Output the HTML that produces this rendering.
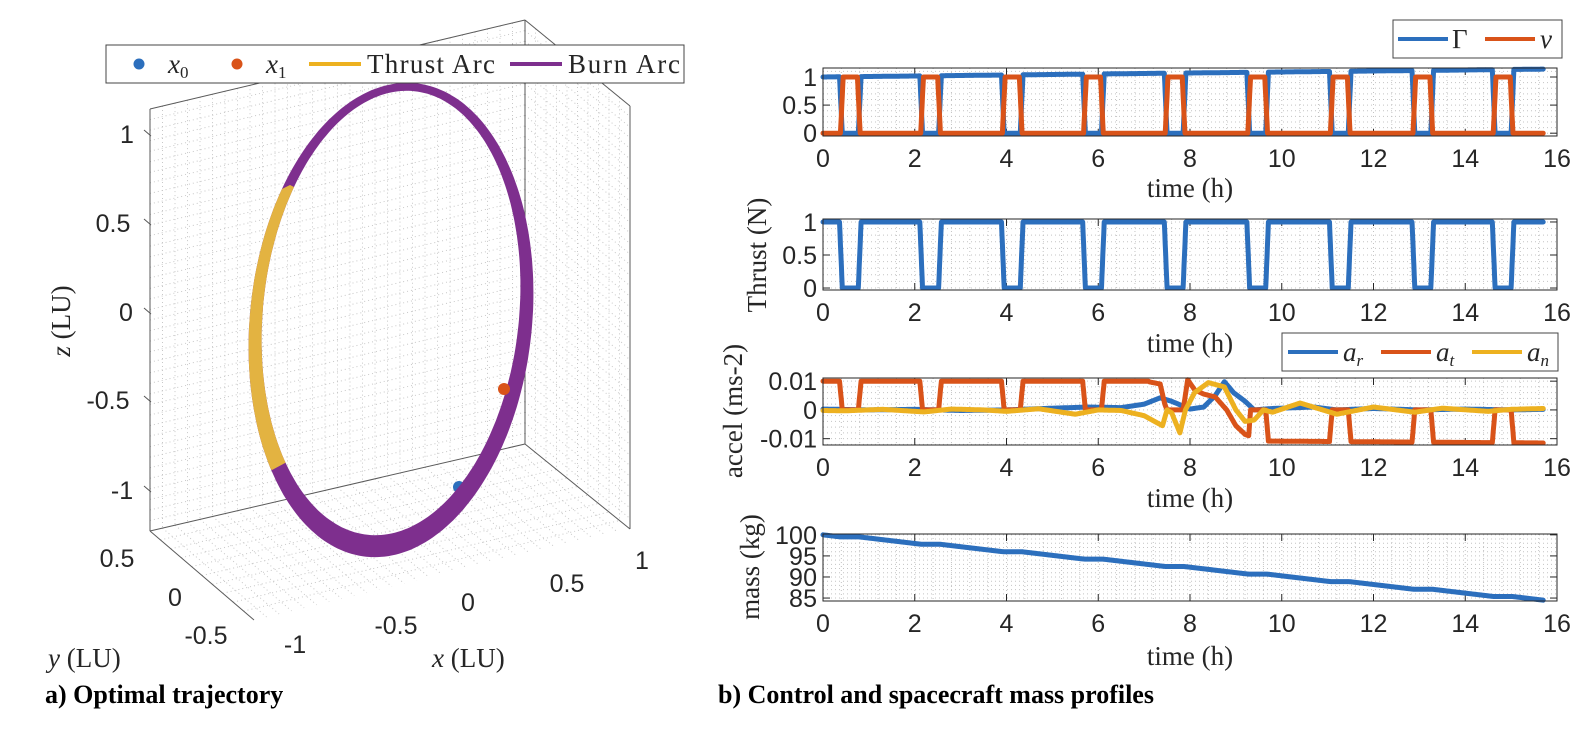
<!DOCTYPE html>
<html><head><meta charset="utf-8"><style>
html,body{margin:0;padding:0;background:#fff;}
svg{display:block;}
.t{font-family:"Liberation Sans",sans-serif;font-size:25px;fill:#262626;}
.s{font-family:"Liberation Serif",serif;font-size:27px;fill:#262626;}
.cap{font-family:"Liberation Serif",serif;font-size:26px;font-weight:bold;fill:#000;}
</style></head><body>
<svg id="sv" width="1588" height="732" viewBox="0 0 1588 732" xmlns="http://www.w3.org/2000/svg">
<rect width="1588" height="732" fill="#fff"/>
<g id="grid3d" stroke="#c8c8c8" stroke-width="1" stroke-dasharray="1,3" fill="none"></g>
<g stroke="#5a5a5a" stroke-width="1" fill="none">
<line x1="150" y1="109" x2="150" y2="531"/>
<line x1="150" y1="109" x2="525" y2="20"/>
<line x1="525" y1="20" x2="525" y2="444"/>
<line x1="525" y1="20" x2="630" y2="106"/>
<line x1="630" y1="106" x2="630" y2="529"/>
<line x1="150" y1="531" x2="525" y2="444"/>
<line x1="525" y1="444" x2="630" y2="529"/>
<line x1="150" y1="531" x2="254" y2="620"/>
</g>
<circle cx="459" cy="487" r="6" fill="#2c6fbd"/>
<g id="ring"></g>
<circle cx="504" cy="389" r="6" fill="#d95319"/>
<g class="t" text-anchor="middle">
<text x="127" y="143">1</text>
<text x="113" y="232">0.5</text>
<text x="126" y="321">0</text>
<text x="108" y="409">-0.5</text>
<text x="122" y="499">-1</text>
<text x="117" y="567">0.5</text>
<text x="175" y="606">0</text>
<text x="206" y="644">-0.5</text>
<text x="295" y="653">-1</text>
<text x="396" y="634">-0.5</text>
<text x="468" y="611">0</text>
<text x="567" y="592">0.5</text>
<text x="642" y="569">1</text>
</g>
<text class="s" transform="translate(70,321) rotate(-90)" text-anchor="middle"><tspan font-style="italic">z</tspan> (LU)</text>
<text class="s" x="48" y="667"><tspan font-style="italic">y</tspan> (LU)</text>
<text class="s" x="432" y="667"><tspan font-style="italic">x</tspan> (LU)</text>
<rect x="106" y="45" width="578" height="38" fill="#fff" stroke="#444" stroke-width="1"/>
<circle cx="139" cy="64" r="5.5" fill="#2c6fbd"/>
<text class="s" x="168" y="73" font-style="italic">x<tspan font-size="17" dy="5" font-style="normal">0</tspan></text>
<circle cx="237" cy="64" r="5.5" fill="#d95319"/>
<text class="s" x="266" y="73" font-style="italic">x<tspan font-size="17" dy="5" font-style="normal">1</tspan></text>
<line x1="309" y1="64" x2="361" y2="64" stroke="#edb120" stroke-width="4"/>
<text class="s" x="367" y="73" textLength="128">Thrust Arc</text>
<line x1="510" y1="64" x2="562" y2="64" stroke="#7e2f8e" stroke-width="4"/>
<text class="s" x="568" y="73" textLength="112">Burn Arc</text>

<g id="panels"></g>

<rect x="1393" y="20" width="169" height="38" fill="#fff" stroke="#444"/>
<line x1="1398" y1="39" x2="1448" y2="39" stroke="#2c6fbd" stroke-width="4"/>
<text class="s" x="1452" y="48">Γ</text>
<line x1="1485" y1="39" x2="1535" y2="39" stroke="#d95319" stroke-width="4"/>
<text class="s" x="1540" y="48" font-style="italic">ν</text>

<rect x="1282" y="333" width="276" height="38" fill="#fff" stroke="#444"/>
<line x1="1288" y1="352" x2="1338" y2="352" stroke="#2c6fbd" stroke-width="4"/>
<text class="s" x="1343" y="361" font-style="italic">a<tspan font-size="17" dy="5">r</tspan></text>
<line x1="1381" y1="352" x2="1431" y2="352" stroke="#d95319" stroke-width="4"/>
<text class="s" x="1436" y="361" font-style="italic">a<tspan font-size="17" dy="5">t</tspan></text>
<line x1="1472" y1="352" x2="1522" y2="352" stroke="#edb120" stroke-width="4"/>
<text class="s" x="1527" y="361" font-style="italic">a<tspan font-size="17" dy="5">n</tspan></text>

<text class="s" transform="translate(766,255) rotate(-90)" text-anchor="middle">Thrust (N)</text>
<text class="s" transform="translate(742,411) rotate(-90)" text-anchor="middle">accel (ms-2)</text>
<text class="s" transform="translate(759,567) rotate(-90)" text-anchor="middle">mass (kg)</text>
<g class="s" text-anchor="middle">
<text x="1190" y="197">time (h)</text>
<text x="1190" y="352">time (h)</text>
<text x="1190" y="507">time (h)</text>
<text x="1190" y="665">time (h)</text>
</g>
<text class="cap" x="45" y="703">a) Optimal trajectory</text>
<text class="cap" x="718" y="703">b) Control and spacecraft mass profiles</text>
</svg>
<script>
var NS="http://www.w3.org/2000/svg";
function el(p,tag,attrs,txt){var e=document.createElementNS(NS,tag);for(var k in attrs)e.setAttribute(k,attrs[k]);if(txt!==undefined)e.textContent=txt;p.appendChild(e);return e;}
var g3=document.getElementById('grid3d');
function lerp(a,b,t){return [a[0]+(b[0]-a[0])*t,a[1]+(b[1]-a[1])*t];}
var BL=[150,531],BT=[150,109],RT=[525,20],RB=[525,444],ST=[630,106],SB=[630,529],FL=[254,620];
for(var i=1;i<30;i++){var t=i/30;var a=lerp(BT,RT,t),b=lerp(BL,RB,t);el(g3,'line',{x1:a[0],y1:a[1],x2:b[0],y2:b[1]});}
for(var i=1;i<40;i++){var t=i/40;var a=lerp(BT,BL,t),b=lerp(RT,RB,t);el(g3,'line',{x1:a[0],y1:a[1],x2:b[0],y2:b[1]});
 var c=lerp(RT,RB,t),d=lerp(ST,SB,t);el(g3,'line',{x1:c[0],y1:c[1],x2:d[0],y2:d[1]});}
for(var i=1;i<10;i++){var t=i/10;var a=lerp(RT,ST,t),b=lerp(RB,SB,t);el(g3,'line',{x1:a[0],y1:a[1],x2:b[0],y2:b[1]});
 var c=lerp(BL,FL,t),d=lerp(RB,SB,t);el(g3,'line',{x1:c[0],y1:c[1],x2:d[0],y2:d[1]});}
for(var i=1;i<30;i++){var t=i/30;var a=lerp(BL,RB,t),b=lerp(FL,SB,t);el(g3,'line',{x1:a[0],y1:a[1],x2:b[0],y2:b[1]});}
var gb=g3.parentNode;
[134,223,312,400,490].forEach(function(y){el(gb,'line',{x1:144,y1:y-4,x2:151,y2:y+2,stroke:'#555'});});
// ring as outer minus inner ellipse
var rg=document.getElementById('ring');
var rot=6*Math.PI/180;
function ell(cx,cy,rx,ry,n){var d='';for(var i=0;i<=n;i++){var th=2*Math.PI*i/n;var x=rx*Math.cos(th),y=ry*Math.sin(th);
 d+=(i?'L':'M')+(cx+x*Math.cos(rot)-y*Math.sin(rot)).toFixed(1)+','+(cy+x*Math.sin(rot)+y*Math.cos(rot)).toFixed(1);}return d+'Z';}
var ringD=ell(391,320,141,238,240)+ell(391,313,128,223,240);
var defs=el(rg,'defs',{});var cp=el(defs,'clipPath',{id:'rc'});el(cp,'path',{d:ringD,'clip-rule':'evenodd'});
el(rg,'path',{d:ringD,fill:'#7e2f8e','fill-rule':'evenodd'});
var yg=el(rg,'g',{'clip-path':'url(#rc)'});
el(yg,'polygon',{points:'230,215 290,185 300,190 300,455 272,470 250,455',fill:'#e3b341'});
// panels
var P=document.getElementById('panels');
var X0=823,X1=1557;function X(t){return X0+(X1-X0)*t/16;}
var panels=[
 {top:68,bot:136,v0:1.16,v1:-0.05,ticks:[[1,'1'],[0.5,'0.5'],[0,'0']],minor:0.1},
 {top:219,bot:290,v0:1.045,v1:-0.03,ticks:[[1,'1'],[0.5,'0.5'],[0,'0']],minor:0.1},
 {top:378,bot:445,v0:0.0111,v1:-0.0122,ticks:[[0.01,'0.01'],[0,'0'],[-0.01,'-0.01']],minor:0.002},
 {top:534,bot:601,v0:100.2,v1:84.3,ticks:[[100,'100'],[95,'95'],[90,'90'],[85,'85']],minor:1}
];
function Y(pn,v){return pn.top+(pn.bot-pn.top)*(pn.v0-v)/(pn.v0-pn.v1);}
var dips=[0.42,2.17,3.95,5.72,7.5,9.3,11.1,12.9,14.65],W=0.35,R=0.06;
function thrust(t){for(var i=0;i<dips.length;i++){var s=dips[i],e=s+W;if(t>s-R&&t<e+R){if(t<s)return (s-t)/R;if(t>e)return (t-e)/R;return 0;}}return 1;}
function nu(t){for(var i=0;i<dips.length;i++){var s=dips[i]+0.02,e=s+W-0.04;if(t>s-R&&t<e+R){if(t<s)return 1-(s-t)/R;if(t>e)return 1-(t-e)/R;return 1;}}return 0;}
function interp(k,t){if(t<=k[0][0])return k[0][1];for(var i=1;i<k.length;i++){if(t<=k[i][0]){var a=k[i-1],b=k[i];return a[1]+(b[1]-a[1])*(t-a[0])/(b[0]-a[0]);}}return k[k.length-1][1];}
var atMid=[[7.1,0.0098],[7.35,0.009],[7.45,0.002],[7.5,0],[7.85,0],[7.95,0.0105],[8.1,0.007],[8.3,0.0055],[8.55,0.0045],[8.8,0],[9.0,-0.0055],[9.2,-0.0085],[9.28,-0.009],[9.32,0]];
function at(t){var T=thrust(t);if(t<7.1)return 0.01*T;if(t<9.32)return interp(atMid,t);return (-0.0108-0.0007*(t-9.4)/6.3)*T;}
var arK=[[0,0.0003],[1,0],[2,0.0002],[3,-0.0002],[4,0],[5,0.0006],[5.8,0.001],[6.5,0.0008],[7,0.002],[7.35,0.0042],[7.6,0.003],[8.0,0.0003],[8.3,0.001],[8.55,0.005],[8.75,0.0098],[8.95,0.006],[9.2,0.003],[9.4,0],[9.8,0.0005],[10.7,0.001],[11.2,0],[12,0.0005],[13,0],[14,0.0003],[15,0],[15.7,0.0002]];
var anK=[[0,-0.0002],[0.5,-0.0003],[1.3,0.0002],[2.2,-0.0007],[2.8,0.0003],[3.5,0],[4,-0.0005],[4.7,0.0004],[5.5,-0.0015],[6.0,0],[6.5,-0.0002],[7.0,-0.002],[7.4,-0.0055],[7.5,0],[7.6,-0.001],[7.78,-0.008],[7.9,0],[8.1,0.006],[8.4,0.0095],[8.75,0.008],[9.0,0],[9.2,-0.004],[9.4,-0.0035],[9.6,0],[9.8,-0.0008],[10.4,0.0024],[11.2,-0.0015],[12,0.001],[12.9,-0.0008],[13.5,0.0006],[14.5,-0.0005],[15,0.0002],[15.7,0.0005]];
function ar(t){return interp(arK,t);}
function an(t){return interp(anK,t);}
var ts=[];for(var t=0;t<=15.7001;t+=0.01)ts.push(t);
var cum=[0],sum=0;for(var i=1;i<ts.length;i++){sum+=thrust(ts[i]);cum.push(sum);}
function mass(i){return 100-15.5*cum[i]/sum;}
function path(pn,f,color,w){var d='';for(var i=0;i<ts.length;i++){var v=f(ts[i],i);d+=(i?'L':'M')+X(ts[i]).toFixed(1)+','+Y(pn,v).toFixed(1);}
 el(P,'path',{d:d,fill:'none',stroke:color,'stroke-width':w,'stroke-linejoin':'round','stroke-linecap':'round'});}
panels.forEach(function(pn,idx){
 var gg=el(P,'g',{stroke:'#c4c4c4','stroke-width':1,'stroke-dasharray':'1,3'});
 for(var t=0.4;t<16;t+=0.4){el(gg,'line',{x1:X(t),y1:pn.top,x2:X(t),y2:pn.bot});}
 for(var v=Math.ceil(pn.v1/pn.minor)*pn.minor;v<pn.v0;v+=pn.minor){var y=Y(pn,v);el(gg,'line',{x1:X0,y1:y,x2:X1,y2:y});}
 for(var t=0;t<=16;t+=2){el(P,'line',{x1:X(t),y1:pn.bot,x2:X(t),y2:pn.bot-7,stroke:'#262626'});el(P,'line',{x1:X(t),y1:pn.top,x2:X(t),y2:pn.top+7,stroke:'#262626'});
  el(P,'text',{x:X(t),y:pn.bot+31,'class':'t','text-anchor':'middle'},String(t));}
 pn.ticks.forEach(function(tk){var y=Y(pn,tk[0]);el(P,'line',{x1:X0,y1:y,x2:X0+7,y2:y,stroke:'#262626'});el(P,'line',{x1:X1,y1:y,x2:X1-7,y2:y,stroke:'#262626'});
  var e=el(P,'text',{x:X0-6,y:y+9,'class':'t','text-anchor':'end'},tk[1]);if(idx==3){e.setAttribute('textLength',tk[1].length*14);}});
 if(idx==0){path(pn,function(t){var T=thrust(t);return T*(1+0.14*t/15.7);},'#2c6fbd',5);path(pn,nu,'#d95319',5);}
 if(idx==1){path(pn,thrust,'#2c6fbd',5);}
 if(idx==2){path(pn,ar,'#2c6fbd',5);path(pn,at,'#d95319',5);path(pn,an,'#edb120',5);}
 if(idx==3){path(pn,function(t,i){return mass(i);},'#2c6fbd',5);}
 el(P,'rect',{x:X0,y:pn.top,width:X1-X0,height:pn.bot-pn.top,fill:'none',stroke:'#262626','stroke-width':1});
});
</script>
</body></html>
